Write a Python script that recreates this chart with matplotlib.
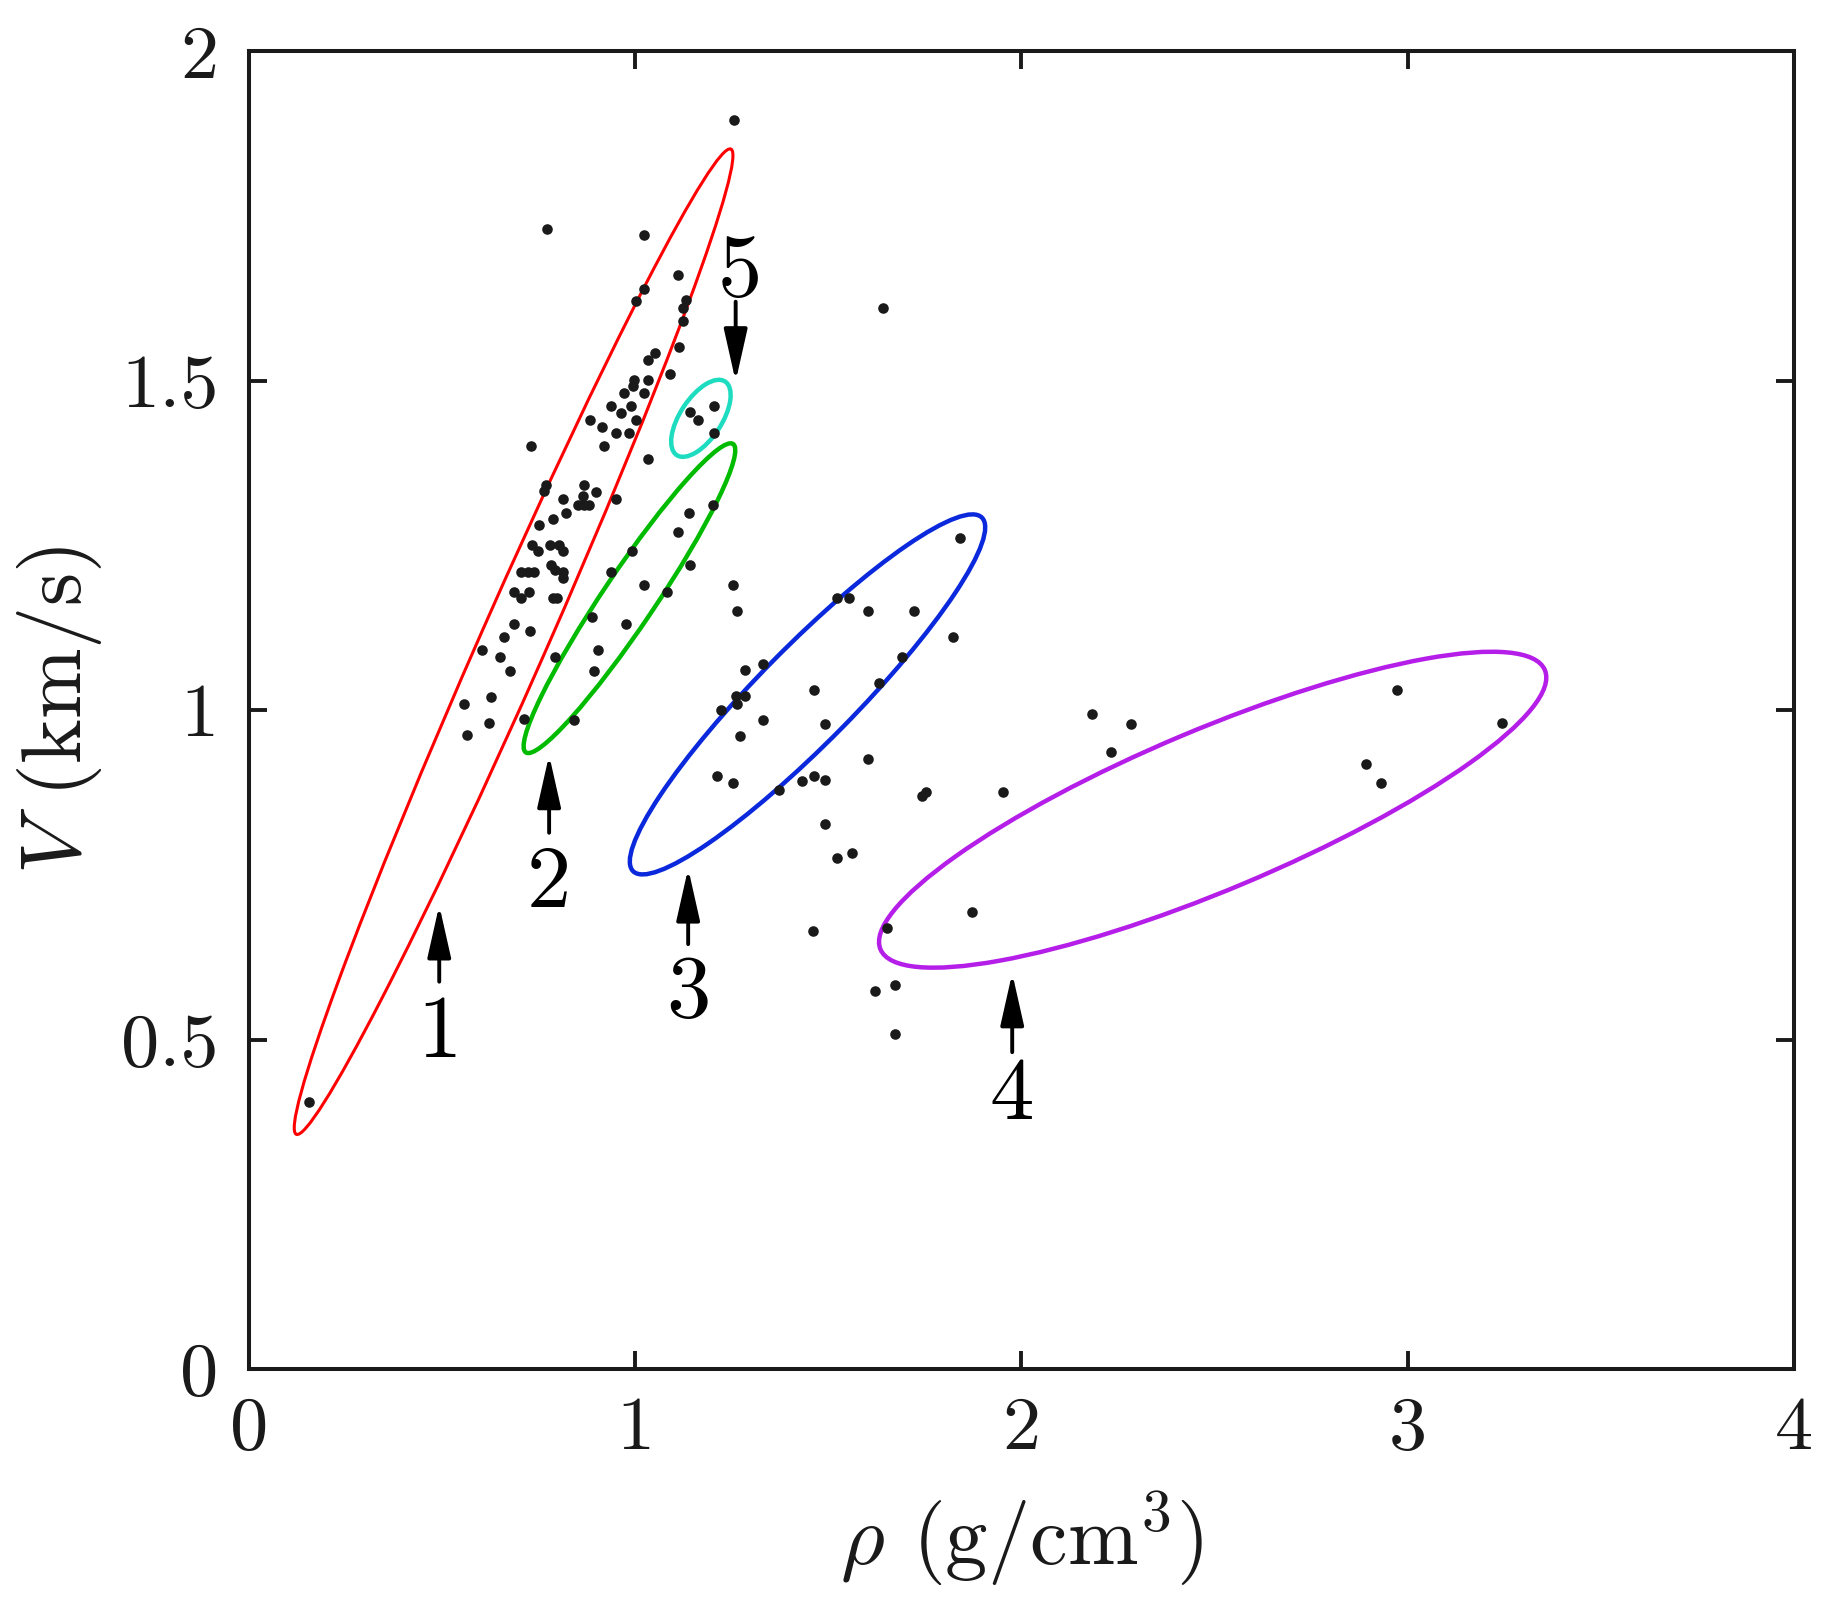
import numpy as np
import matplotlib
matplotlib.use('Agg')
import matplotlib.pyplot as plt
from matplotlib.patches import Ellipse
from matplotlib.transforms import Affine2D

# ---------------- data ----------------
rho = [0.771, 1.022, 1.110, 1.022, 1.001, 1.132, 1.123, 1.123, 1.112, 1.052,
       1.032, 1.091, 0.998, 1.032, 0.993, 0.970, 1.022, 0.937, 0.989, 0.963,
       1.002, 0.882, 0.913, 0.950, 0.984, 0.920, 0.730, 1.032,
       1.143, 1.162, 1.203, 1.203,
       1.256, 0.156, 1.641,
       0.769, 0.765, 0.868, 0.899, 0.812, 0.851, 0.868, 0.881, 0.866, 0.949,
       0.821, 0.786, 0.750, 0.732, 0.749, 0.780, 0.803, 0.812, 0.704, 0.722,
       0.737, 0.782, 0.792, 0.812, 0.812, 0.685, 0.704, 0.724, 0.786, 0.797,
       0.685, 0.727, 0.661, 0.602, 0.650, 0.676, 0.792, 0.557, 0.626, 0.622,
       0.564, 0.713, 0.841,
       1.140, 1.201, 1.110, 0.992, 0.936, 1.141, 1.022, 1.081, 0.888, 0.976,
       0.903, 0.894,
       1.841,
       1.253, 1.263, 1.522, 1.553, 1.602, 1.721, 1.823, 1.691, 1.632, 1.462,
       1.283, 1.332, 1.261, 1.283, 1.263, 1.222, 1.332, 1.272, 1.492, 1.602,
       1.212, 1.253, 1.373, 1.432, 1.462, 1.492, 1.743, 1.753, 1.952, 1.492,
       1.562, 1.522,
       1.461, 1.652, 1.872, 1.622, 1.672, 1.672,
       2.183, 2.283, 2.233, 2.973, 3.243, 2.893, 2.932]
vel = [1.731, 1.721, 1.661, 1.640, 1.621, 1.623, 1.611, 1.591, 1.551, 1.542,
       1.531, 1.511, 1.501, 1.501, 1.492, 1.481, 1.481, 1.461, 1.461, 1.451,
       1.440, 1.440, 1.430, 1.421, 1.421, 1.401, 1.401, 1.381,
       1.452, 1.440, 1.461, 1.421,
       1.896, 0.405, 1.611,
       1.342, 1.332, 1.342, 1.331, 1.321, 1.311, 1.311, 1.311, 1.325, 1.321,
       1.300, 1.290, 1.281, 1.251, 1.242, 1.251, 1.251, 1.241, 1.210, 1.210,
       1.210, 1.220, 1.213, 1.210, 1.200, 1.180, 1.170, 1.180, 1.170, 1.171,
       1.131, 1.120, 1.111, 1.091, 1.080, 1.060, 1.080, 1.010, 1.020, 0.980,
       0.963, 0.986, 0.985,
       1.300, 1.311, 1.270, 1.241, 1.210, 1.220, 1.190, 1.180, 1.141, 1.131,
       1.091, 1.060,
       1.261,
       1.190, 1.151, 1.171, 1.171, 1.151, 1.151, 1.111, 1.081, 1.041, 1.031,
       1.061, 1.070, 1.022, 1.021, 1.010, 1.000, 0.985, 0.961, 0.979, 0.926,
       0.900, 0.890, 0.879, 0.892, 0.900, 0.894, 0.870, 0.876, 0.876, 0.828,
       0.784, 0.775,
       0.665, 0.669, 0.693, 0.574, 0.583, 0.508,
       0.995, 0.979, 0.936, 1.031, 0.980, 0.918, 0.889]

# ellipses (centre in data units; semi-axes in x-axis units of a display-isotropic frame)
ell_cx = [0.685, 0.985, 1.446, 2.495, 1.170]
ell_cy = [1.104, 1.170, 1.024, 0.849, 1.443]
ell_a = [1.394, 0.481, 0.643, 0.933, 0.114]
ell_b = [0.0855, 0.0674, 0.1244, 0.2074, 0.0537]
ell_angle = [66.2, 56.1, 45.4, 22.8, 56.7]
ell_colors = ['#ff0000', '#00bb00', '#0a28dc', '#b41ee8', '#1edcc0']

# annotation arrows and labels
arrow_x = [0.4925, 0.777, 1.137, 1.976, 1.260]
arrow_tail = [0.588, 0.814, 0.645, 0.481, 1.620]
arrow_tip = [0.704, 0.932, 0.760, 0.601, 1.499]
label_text = ['1', '2', '3', '4', '5']
label_x = [0.4925, 0.777, 1.137, 1.976, 1.270]
label_y = [0.474, 0.702, 0.534, 0.380, 1.628]

xticks = [0, 1, 2, 3, 4]
xtick_labels = ['0', '1', '2', '3', '4']
yticks = [0, 0.5, 1, 1.5, 2]
ytick_labels = ['0', '0.5', '1', '1.5', '2']

# ---------------- figure ----------------
plt.rcParams['font.family'] = ['cmr10', 'DejaVu Serif']
plt.rcParams['mathtext.fontset'] = 'cm'
plt.rcParams['axes.formatter.use_mathtext'] = True
plt.rcParams['axes.unicode_minus'] = False

fig = plt.figure(figsize=(18.27, 16.03), dpi=100)
ax = fig.add_axes([0.1363, 0.1459, 0.8456, 0.8221])
ax.set_xlim(0, 4)
ax.set_ylim(0, 2)

dark = '#1a1a1a'
ax.scatter(rho, vel, s=58, c=dark, linewidths=0, zorder=3)

fig.canvas.draw()
bb = ax.get_window_extent()
r = (bb.height / 2.0) / (bb.width / 4.0)
iso = Affine2D().scale(1.0, 1.0 / r) + ax.transData
for cx, cy, a, b, ang, col in zip(ell_cx, ell_cy, ell_a, ell_b, ell_angle, ell_colors):
    lw = 2.2 if col == '#ff0000' else 3.2
    e = Ellipse((cx, cy * r), width=2 * a, height=2 * b, angle=ang,
                fill=False, edgecolor=col, linewidth=lw, transform=iso, zorder=2)
    ax.add_patch(e)

for x, t0, t1 in zip(arrow_x, arrow_tail, arrow_tip):
    ax.annotate('', xy=(x, t1), xytext=(x, t0),
                arrowprops=dict(arrowstyle='-|>,head_length=1.6,head_width=0.36',
                                mutation_scale=20, lw=2.8, color='black',
                                shrinkA=0, shrinkB=0), zorder=4)
for x, y, s in zip(label_x, label_y, label_text):
    ax.text(x, y, s, ha='center', va='baseline', fontsize=64, color='black', zorder=4)

ax.set_xticks(xticks)
ax.set_xticklabels(xtick_labels)
ax.set_yticks(yticks)
ax.set_yticklabels(ytick_labels)
ax.tick_params(direction='in', length=13, width=2.8, top=True, right=True,
               labelsize=55, colors=dark, labelcolor=dark)
ax.tick_params(axis='x', pad=20)
ax.tick_params(axis='y', pad=22)
for sp in ax.spines.values():
    sp.set_linewidth(2.9)
    sp.set_color(dark)

ax.set_xlabel(r'$\rho$ (g/cm$^3$)', fontsize=61, color=dark, labelpad=18)
ax.set_ylabel(r'$V$ (km/s)', fontsize=61, color=dark, labelpad=12)

fig.savefig('out.png', dpi=100, facecolor='white')
